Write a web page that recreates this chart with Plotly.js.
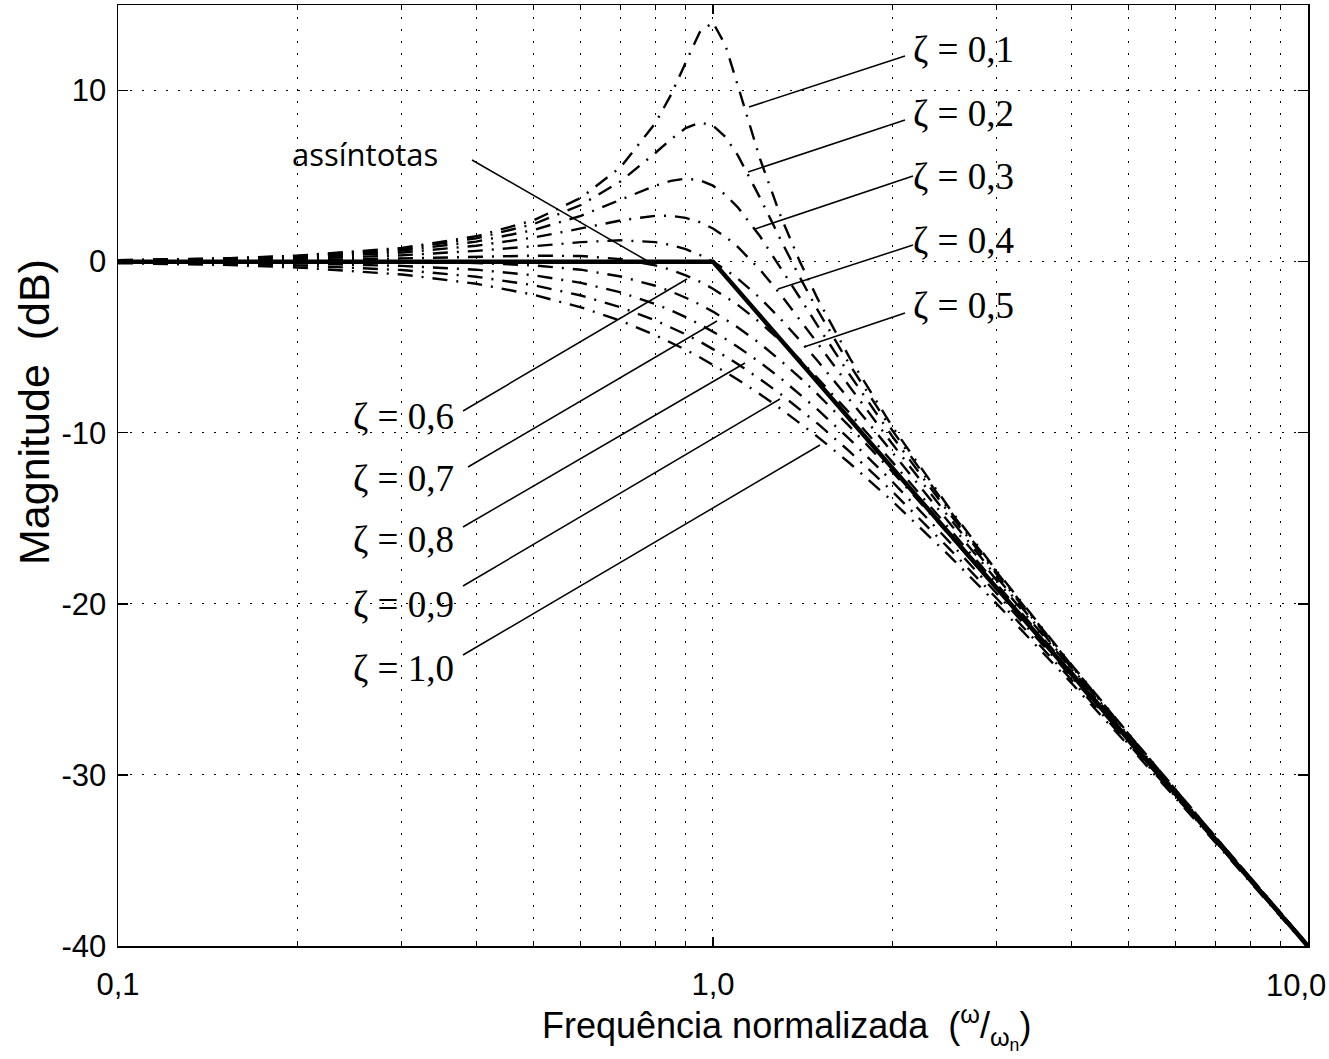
<!DOCTYPE html>
<html>
<head>
<meta charset="utf-8">
<script src="https://cdn.plot.ly/plotly-3.0.1.min.js"></script>
<style>html,body{margin:0;padding:0;background:#fff;}#chart{width:1329px;height:1059px;}</style>
</head>
<body>
<div id="chart"></div>
<script>
// Normalized frequency (w/wn)
const freq = [0.1,0.15,0.2,0.3,0.4,0.5,0.6,0.7,0.8,0.85,0.9,0.95,1.0,1.05,1.1,1.2,1.3,1.4,1.5,1.7,2.0,2.5,3.0,4.0,5.0,7.0,10.0];
// Magnitude (dB) for each damping ratio
const z01 = [0.09,0.19,0.35,0.80,1.48,2.42,3.73,5.53,8.09,9.75,11.64,13.41,13.98,12.63,10.34,6.00,2.65,0.00,-2.18,-5.67,-9.62,-14.44,-18.09,-23.53,-27.61,-33.63,-39.91];
const z02 = [0.08,0.18,0.33,0.74,1.36,2.20,3.31,4.70,6.35,7.15,7.81,8.13,7.96,7.28,6.24,3.73,1.27,-0.92,-2.84,-6.06,-9.84,-14.56,-18.16,-23.57,-27.63,-33.64,-39.92];
const z03 = [0.07,0.16,0.29,0.65,1.17,1.85,2.68,3.60,4.44,4.72,4.85,4.76,4.44,3.90,3.19,1.48,-0.35,-2.11,-3.75,-6.64,-10.19,-14.74,-18.28,-23.63,-27.67,-33.66,-39.93];
const z04 = [0.06,0.13,0.24,0.53,0.93,1.41,1.94,2.41,2.68,2.68,2.56,2.31,1.94,1.45,0.87,-0.47,-1.93,-3.38,-4.78,-7.34,-10.63,-14.99,-18.44,-23.72,-27.72,-33.68,-39.94];
const z05 = [0.04,0.10,0.17,0.37,0.63,0.90,1.14,1.25,1.14,0.97,0.73,0.40,0.00,-0.47,-0.98,-2.13,-3.36,-4.60,-5.81,-8.10,-11.14,-15.29,-18.63,-23.82,-27.79,-33.72,-39.96];
const z06 = [0.02,0.05,0.09,0.19,0.29,0.35,0.33,0.15,-0.22,-0.48,-0.80,-1.17,-1.58,-2.04,-2.52,-3.56,-4.64,-5.73,-6.82,-8.88,-11.69,-15.63,-18.86,-23.95,-27.87,-33.76,-39.98];
const z07 = [0.00,0.00,0.00,-0.02,-0.08,-0.22,-0.47,-0.87,-1.41,-1.74,-2.11,-2.50,-2.92,-3.37,-3.83,-4.79,-5.79,-6.78,-7.76,-9.66,-12.26,-16.00,-19.12,-24.09,-27.96,-33.80,-40.00];
const z08 = [-0.02,-0.06,-0.10,-0.25,-0.47,-0.80,-1.24,-1.80,-2.48,-2.85,-3.24,-3.66,-4.08,-4.52,-4.97,-5.89,-6.82,-7.74,-8.65,-10.40,-12.84,-16.39,-19.40,-24.25,-28.06,-33.86,-40.03];
const z09 = [-0.05,-0.12,-0.22,-0.49,-0.88,-1.38,-1.98,-2.67,-3.43,-3.83,-4.25,-4.67,-5.11,-5.54,-5.98,-6.87,-7.75,-8.62,-9.47,-11.12,-13.42,-16.80,-19.69,-24.42,-28.18,-33.91,-40.05];
const z10 = [-0.09,-0.19,-0.34,-0.75,-1.29,-1.94,-2.67,-3.46,-4.30,-4.72,-5.15,-5.59,-6.02,-6.46,-6.89,-7.75,-8.60,-9.43,-10.24,-11.80,-13.98,-17.21,-20.00,-24.61,-28.30,-33.98,-40.09];
const curveNames = ["ζ = 0,1","ζ = 0,2","ζ = 0,3","ζ = 0,4","ζ = 0,5","ζ = 0,6","ζ = 0,7","ζ = 0,8","ζ = 0,9","ζ = 1,0"];
// Asymptotes
const asymX = [0.1, 1.0, 10.0];
const asymY = [0, 0, -40];
// Tick labels
const xTickVals = [0.1, 1, 10];
const xTickText = ["0,1", "1,0", "10,0"];
const xMinorVals = [0.2,0.3,0.4,0.5,0.6,0.7,0.8,0.9,2,3,4,5,6,7,8,9];
const yTickVals = [-40,-30,-20,-10,0,10];
const yTickText = ["-40","-30","-20","-10","0","10"];
const xTitle = 'Frequência normalizada  (<sup>ω</sup>/<sub>ω<sub>n</sub></sub>)';
const yTitle = 'Magnitude  (dB)';

const series = [z01,z02,z03,z04,z05,z06,z07,z08,z09,z10];
const traces = series.map((ys, i) => ({
  x: freq, y: ys, type: 'scatter', mode: 'lines', name: curveNames[i],
  line: {color: '#000', width: 2.4, dash: '15px,9px,2px,9px'},
  hoverinfo: 'skip'
}));
traces.push({x: asymX, y: asymY, type: 'scatter', mode: 'lines', name: 'assíntotas',
  line: {color: '#000', width: 4.5}, hoverinfo: 'skip'});

// plot area in pixels
const L = 118, R = 1308, T = 5, B = 946;
const px = v => (v - L) / (R - L);
const py = v => (B - v) / (B - T);

const labelsRight = [
  {t: curveNames[0], x: 911, y: 49, lx0: 905, ly0: 56, lx1: 749, ly1: 107},
  {t: curveNames[1], x: 911, y: 114, lx0: 905, ly0: 120, lx1: 748, ly1: 172},
  {t: curveNames[2], x: 911, y: 176, lx0: 913, ly0: 176, lx1: 755, ly1: 229},
  {t: curveNames[3], x: 911, y: 241, lx0: 913, ly0: 245, lx1: 778, ly1: 289},
  {t: curveNames[4], x: 911, y: 305, lx0: 905, ly0: 313, lx1: 804, ly1: 347}
];
const labelsLeft = [
  {t: curveNames[5], x: 351, y: 416, lx0: 463, ly0: 411, lx1: 687, ly1: 279},
  {t: curveNames[6], x: 351, y: 478, lx0: 468, ly0: 467, lx1: 717, ly1: 321},
  {t: curveNames[7], x: 351, y: 539, lx0: 463, ly0: 527, lx1: 745, ly1: 363},
  {t: curveNames[8], x: 351, y: 604, lx0: 463, ly0: 586, lx1: 780, ly1: 399},
  {t: curveNames[9], x: 351, y: 668, lx0: 463, ly0: 655, lx1: 820, ly1: 445}
];
const serif = {family: '"Liberation Serif", "Times New Roman", serif', size: 37, color: '#000'};
const annotations = [];
const shapes = [];
labelsRight.concat(labelsLeft).forEach(l => {
  annotations.push({xref: 'paper', yref: 'paper', x: px(l.x), y: py(l.y), xanchor: 'left', yanchor: 'middle',
    text: l.t, showarrow: false, font: serif});
  shapes.push({type: 'line', xref: 'paper', yref: 'paper', x0: px(l.lx0), y0: py(l.ly0), x1: px(l.lx1), y1: py(l.ly1),
    line: {color: '#000', width: 1.5}});
});
annotations.push({xref: 'paper', yref: 'paper', x: px(290), y: py(154), xanchor: 'left', yanchor: 'middle',
  text: 'assíntotas', showarrow: false, font: {family: '"Open Sans", "Noto Sans", sans-serif', size: 31, color: '#000'}});
shapes.push({type: 'line', xref: 'paper', yref: 'paper', x0: px(472), y0: py(160), x1: px(651), y1: py(263),
  line: {color: '#000', width: 1.5}});

const sans = '"Liberation Sans", Arial, Helvetica, sans-serif';
// axis titles as annotations (offset from the axis centre in the reference)
annotations.push({xref: 'paper', yref: 'paper', x: px(786), y: py(1027), xanchor: 'center', yanchor: 'middle',
  text: xTitle, showarrow: false, font: {family: sans, size: 36, color: '#000'}});
annotations.push({xref: 'paper', yref: 'paper', x: px(34), y: py(412), xanchor: 'center', yanchor: 'middle',
  textangle: -90, text: yTitle, showarrow: false, font: {family: sans, size: 43, color: '#000'}});
// last x tick label sits against the right edge of the figure, so it is placed right-aligned
annotations.push({xref: 'x', yref: 'paper', x: Math.log10(xTickVals[2]), xshift: 20, y: py(985), xanchor: 'right', yanchor: 'middle',
  text: xTickText[2], showarrow: false, font: {family: sans, size: 31, color: '#000'}});

const layout = {
  width: 1329, height: 1059,
  margin: {l: L, r: 1329 - R, t: T, b: 1059 - B},
  paper_bgcolor: '#fff', plot_bgcolor: '#fff',
  showlegend: false,
  font: {family: sans, color: '#000'},
  xaxis: {
    type: 'log', range: [-1, 1.0002],
    tickmode: 'array', tickvals: xTickVals, ticktext: xTickText.map((t, i) => i === 2 ? ' ' : t),
    tickfont: {family: sans, size: 31, color: '#000'},
    ticks: 'inside', ticklen: 9, tickwidth: 1.5, tickcolor: '#000',
    ticklabelstandoff: 10,
    showline: true, linecolor: '#000', linewidth: 1.5, mirror: 'ticks',
    showgrid: true, gridcolor: '#000', gridwidth: 1, griddash: '2px,10px',
    minor: {tickmode: 'array', tickvals: xMinorVals, ticks: 'inside', ticklen: 5, tickwidth: 1, tickcolor: '#000',
      showgrid: true, gridcolor: '#000', gridwidth: 1, griddash: '2px,10px'},
    zeroline: false
  },
  yaxis: {
    range: [-40, 15],
    tickmode: 'array', tickvals: yTickVals, ticktext: yTickText,
    tickfont: {family: sans, size: 31, color: '#000'},
    ticks: 'inside', ticklen: 10, tickwidth: 1.5, tickcolor: '#000',
    ticklabelstandoff: 4,
    showline: true, linecolor: '#000', linewidth: 1.5, mirror: 'ticks',
    showgrid: true, gridcolor: '#000', gridwidth: 1, griddash: '2px,10px',
    zeroline: false
  },
  annotations: annotations,
  shapes: shapes
};
Plotly.newPlot('chart', traces, layout, {displayModeBar: false, staticPlot: true});
</script>
</body>
</html>
